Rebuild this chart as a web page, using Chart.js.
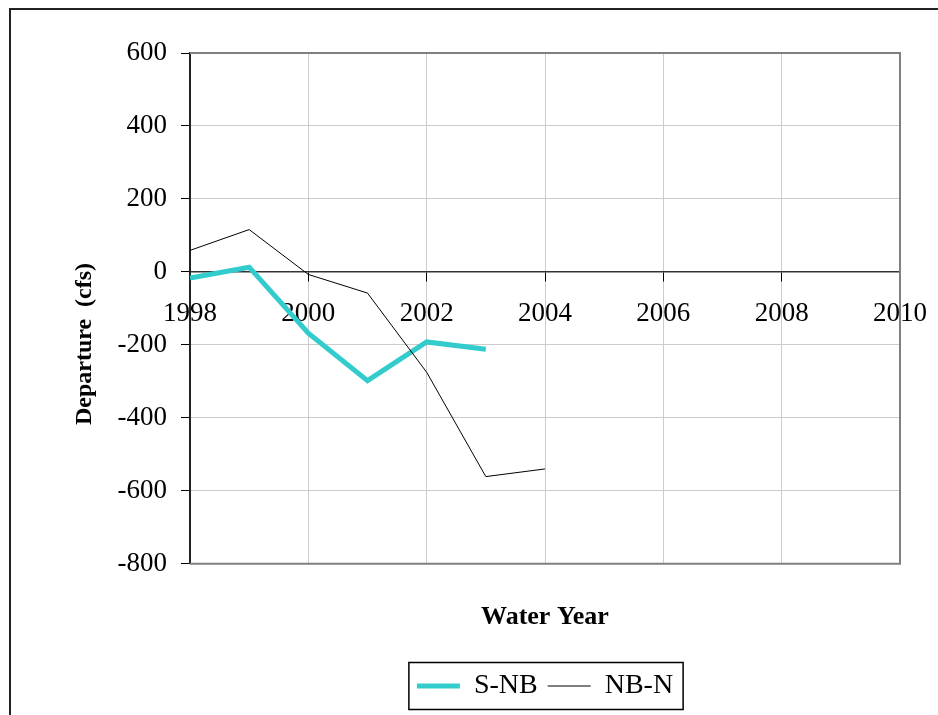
<!DOCTYPE html>
<html lang="en">
<head>
<meta charset="UTF-8">
<title>Departure by Water Year</title>
<script src="https://cdn.jsdelivr.net/npm/chart.js@4.4.1/dist/chart.umd.min.js"></script>
<style>
  html, body { margin: 0; padding: 0; background: #fff; }
  #wrap { width: 938px; height: 715px; position: relative; }
</style>
</head>
<body>
<div id="wrap"><canvas id="grafico"></canvas></div>

<script>
// data
var years   = [1998, 1999, 2000, 2001, 2002, 2003, 2004];
var sNB     = [-17, 13, -168, -298, -192, -212];
var nbN     = [59, 116, -7, -58, -275, -561, -540];
var xTicks  = [1998, 2000, 2002, 2004, 2006, 2008, 2010];
var yTicks  = [-800, -600, -400, -200, 0, 200, 400, 600];

function puntos(valores) {
  var out = [];
  for (var i = 0; i < valores.length; i++) {
    out.push({ x: years[i], y: valores[i] });
  }
  return out;
}

var fuente = 'Liberation Serif';

// frame, plot border, y title and legend box
var marcos = {
  id: 'marcos',
  beforeDatasetsDraw: function(chart) {
    var a = chart.chartArea, ctx = chart.ctx;
    ctx.save();
    ctx.strokeStyle = '#808080';
    ctx.lineWidth = 2;
    ctx.beginPath();
    ctx.moveTo(a.left, a.top);
    ctx.lineTo(a.right, a.top);
    ctx.lineTo(a.right, a.bottom);
    ctx.lineTo(a.left, a.bottom);
    ctx.stroke();
    ctx.restore();
  },
  afterDraw: function(chart) {
    var ctx = chart.ctx;
    ctx.save();
    // outer frame
    ctx.strokeStyle = '#222';
    ctx.lineWidth = 2;
    ctx.strokeRect(10, 9, 1000, 1000);

    // y axis title
    ctx.fillStyle = '#000';
    ctx.font = 'bold 24px "' + fuente + '"';
    ctx.textAlign = 'center';
    ctx.textBaseline = 'middle';
    ctx.translate(85, 344);
    ctx.rotate(-Math.PI / 2);
    ctx.fillText('Departure  (cfs)', 0, 0);
    ctx.restore();

    // legend box
    var hb = chart.legend.legendHitBoxes;
    if (hb && hb.length) {
      var l = hb[0].left - 8;
      var r = hb[hb.length - 1].left + hb[hb.length - 1].width + 10;
      var cy = hb[0].top + hb[0].height / 2;
      ctx.save();
      ctx.strokeStyle = '#000';
      ctx.lineWidth = 1.5;
      ctx.strokeRect(l, cy - 23.5, r - l, 47);
      ctx.restore();
    }
  }
};

const ctx = document.getElementById('grafico');
new Chart(ctx, {
  type: 'line',
  data: {
    datasets: [{
      label: 'S-NB',
      data: puntos(sNB),
      borderColor: '#33CCCC',
      backgroundColor: '#33CCCC',
      borderWidth: 5,
      pointRadius: 0,
      tension: 0,
      order: 1
    }, {
      label: 'NB-N',
      data: puntos(nbN),
      borderColor: '#000',
      backgroundColor: '#000',
      borderWidth: 1,
      pointRadius: 0,
      tension: 0,
      order: 0
    }]
  },
  options: {
    responsive: true,
    maintainAspectRatio: false,
    animation: false,
    layout: { padding: { left: 10, right: 38, top: 53, bottom: 5 } },
    scales: {
      x: {
        type: 'linear',
        min: xTicks[0],
        max: xTicks[xTicks.length - 1],
        position: { y: 0 },
        afterBuildTicks: function(s) { s.ticks = xTicks.map(function(v) { return { value: v }; }); },
        afterFit: function(s) { s.paddingLeft = 0; s.paddingRight = 0; },
        ticks: {
          callback: function(v) { return String(v); },
          color: '#000',
          font: { family: fuente, size: 27 },
          padding: 17,
          maxRotation: 0,
          autoSkip: false
        },
        grid: { color: '#cccccc', tickColor: '#000', tickLength: 9, lineWidth: 1 },
        border: { color: '#333', width: 1.5 }
      },
      y: {
        min: yTicks[0],
        max: yTicks[yTicks.length - 1],
        afterBuildTicks: function(s) { s.ticks = yTicks.map(function(v) { return { value: v }; }); },
        afterFit: function(s) { s.width = 180; },
        ticks: {
          color: '#000',
          font: { family: fuente, size: 27 },
          padding: 14
        },
        grid: { color: '#cccccc', tickColor: '#000', tickLength: 9, lineWidth: 1 },
        border: { color: '#222', width: 2 }
      }
    },
    plugins: {
      tooltip: { enabled: false },
      title: {
        display: true,
        text: 'Water Year',
        position: 'bottom',
        fullSize: false,
        weight: 500,
        color: '#000',
        font: { family: fuente, size: 26, weight: 'bold' },
        padding: { top: 38, bottom: 29 }
      },
      legend: {
        position: 'bottom',
        fullSize: false,
        labels: {
          usePointStyle: true,
          pointStyle: 'line',
          pointStyleWidth: 43,
          color: '#000',
          font: { family: fuente, size: 28 },
          padding: 10,
          sort: function(a, b) { return a.datasetIndex - b.datasetIndex; }
        }
      }
    }
  },
  plugins: [marcos]
});
</script>
</body>
</html>
